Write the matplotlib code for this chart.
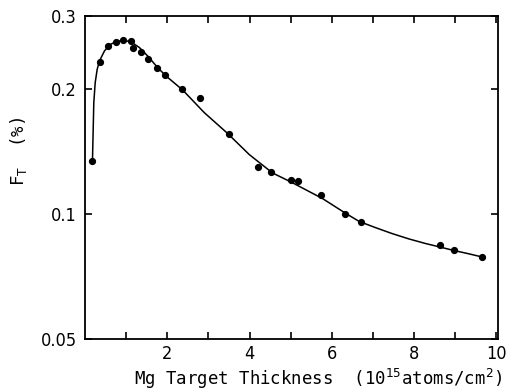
import matplotlib
matplotlib.use("Agg")
import matplotlib.pyplot as plt
from matplotlib import font_manager
from matplotlib.font_manager import FontProperties
from matplotlib.ticker import FixedLocator, NullLocator, FixedFormatter

# measured points
x_pts = [0.18, 0.36, 0.57, 0.76, 0.93, 1.12, 1.17, 1.36, 1.54, 1.75, 1.95,
         2.37, 2.80, 3.49, 4.21, 4.52, 5.00, 5.17, 5.74, 6.32, 6.72, 8.63, 8.97, 9.65]
y_pts = [0.134, 0.233, 0.254, 0.260, 0.262, 0.261, 0.251, 0.246, 0.236, 0.225, 0.216,
         0.200, 0.190, 0.156, 0.130, 0.126, 0.121, 0.120, 0.111, 0.100, 0.0955, 0.084, 0.082, 0.0788]

# fitted curve
x_fit = [0.182, 0.199, 0.214, 0.248, 0.296, 0.352, 0.473, 0.595, 0.757, 0.942, 1.121,
         1.323, 1.524, 1.767, 1.971, 2.374, 2.900, 3.466, 3.993, 4.558, 5.005, 5.772,
         6.323, 6.663, 7.068, 7.471, 7.876, 8.282, 8.646, 8.968, 9.333, 9.655]
y_fit = [0.1348, 0.160, 0.1855, 0.2073, 0.2232, 0.2338, 0.2471, 0.2555, 0.2604, 0.2622, 0.2598,
         0.2518, 0.2403, 0.2253, 0.2150, 0.1990, 0.1755, 0.1564, 0.1391, 0.1256, 0.1195, 0.1090,
         0.1006, 0.0960, 0.0927, 0.0897, 0.0871, 0.0849, 0.0832, 0.0817, 0.0802, 0.0788]

x_major = [2, 4, 6, 8, 10]
x_minor = [1, 3, 5, 7, 9]
y_ticks = [0.05, 0.1, 0.2, 0.3]
y_ticklabels = ["0.05", "0.1", "0.2", "0.3"]

# pick a narrow sans font if one is installed
tick_fp = None
for f in font_manager.fontManager.ttflist:
    nm = f.name.lower()
    fn = f.fname.lower()
    if ("narrow" in nm or "condensed" in nm or "condensed" in fn or "narrow" in fn) \
            and "bold" not in fn and "oblique" not in fn and "italic" not in fn \
            and "mono" not in fn and "serif" not in nm:
        tick_fp = FontProperties(fname=f.fname, size=13)
        break
if tick_fp is None:
    tick_fp = FontProperties(family="DejaVu Sans", size=12.5)

label_font = "DejaVu Sans Mono"

fig = plt.figure(figsize=(5.08, 3.92), dpi=100)
ax = fig.add_axes([85 / 508, 53 / 392, 413 / 508, 323 / 392])

ax.plot(x_fit, y_fit, color="black", lw=1.1)
ax.plot(x_pts, y_pts, "o", color="black", ms=4.2)

ax.set_yscale("log")
ax.set_xlim(0, 10.04)
ax.set_ylim(0.05, 0.3)

ax.xaxis.set_major_locator(FixedLocator(x_major))
ax.xaxis.set_minor_locator(FixedLocator(x_minor))
ax.yaxis.set_major_locator(FixedLocator(y_ticks))
ax.yaxis.set_major_formatter(FixedFormatter(y_ticklabels))
ax.yaxis.set_minor_locator(NullLocator())

ax.tick_params(axis="x", which="both", direction="in", top=True, length=5, width=1.2, pad=4)
ax.tick_params(axis="y", which="both", direction="in", right=True, length=5, width=1.2, pad=6)
for s in ax.spines.values():
    s.set_linewidth(1.3)

for lab in ax.get_xticklabels() + ax.get_yticklabels():
    lab.set_fontproperties(tick_fp)

ax.set_xlabel(r"Mg Target Thickness  (10$^{15}$atoms/cm$^{2}$)", family=label_font, fontsize=12.5)
ax.xaxis.set_label_coords(0.565, -0.085)
ax.set_ylabel(r"F$_{\mathrm{T}}$  (%)", family=label_font, fontsize=12.5)
ax.yaxis.set_label_coords(-0.135, 0.58)

fig.savefig("out.png", dpi=100)
